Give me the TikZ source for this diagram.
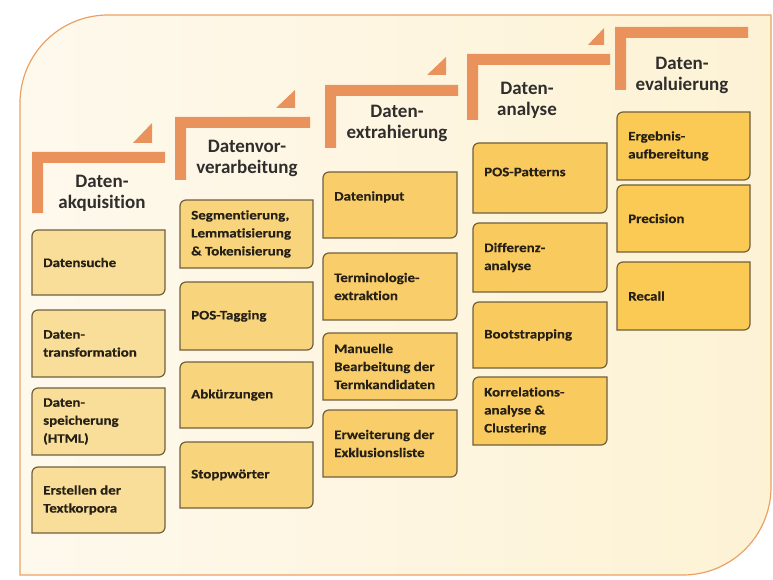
\documentclass[tikz,border=0pt]{standalone}
\usepackage{fontspec}
\setmainfont{Carlito}
\newfontfamily\headfont[RawFeature=-liga]{Carlito Bold}
\newfontfamily\boxfont[FakeStretch=1.15,FakeBold=0.4,RawFeature=-liga]{Carlito Bold}
\definecolor{stepcol}{RGB}{233,146,92}
\definecolor{bgline}{RGB}{236,160,100}
\definecolor{bgL}{RGB}{254,249,237}
\definecolor{bgR}{RGB}{253,242,212}
\definecolor{boxborder}{RGB}{112,96,62}
\definecolor{cA}{RGB}{248,222,152}
\definecolor{cB}{RGB}{248,212,124}
\definecolor{cC}{RGB}{249,206,106}
\definecolor{cD}{RGB}{249,203,94}
\definecolor{cE}{RGB}{250,202,84}
\definecolor{textc}{RGB}{38,32,22}
\definecolor{headc}{RGB}{48,46,44}
\tikzset{
  stepfill/.style={fill=stepcol},
  boxnode/.style={inner sep=0pt, outer sep=0pt},
  boxline/.style={draw=boxborder, line width=1.2pt},
  boxtext/.style={inner sep=0pt, align=left, text=textc,
    font=\boxfont\fontsize{13}{18}\selectfont},
  headtext/.style={inner sep=0pt, align=center, text=headc,
    font=\headfont\fontsize{19}{21}\selectfont},
}
\newcommand\pbox[8]{%
  \node[boxnode, minimum width={(#5-#3)*1pt}, minimum height={(#6-#4)*1pt}] (#1) at ({(#3+#5)/2},{(#4+#6)/2}) {};
  \draw[boxline, fill=#2] (#1.south west) -- ([yshift=-6pt]#1.north west)
    arc[start angle=180, end angle=90, radius=6pt] -- (#1.north east)
    -- ([yshift=6pt]#1.south east) arc[start angle=0, end angle=-90, radius=6pt] -- cycle;
  \node[boxtext, anchor=west] (#1t) at ([xshift=11pt, yshift=#7]#1.west) {#8};
}
\newcommand\stepshape[4]{% x0, xr, ytop, ybottom
  \fill[stepfill] (#1,#4) -- (#1,#3) -- (#2,#3) -- (#2,#3+11) -- (#1+11,#3+11) -- (#1+11,#4) -- cycle;
}
\begin{document}
\begin{tikzpicture}[x=1pt, y=-1pt]
\useasboundingbox (0,0) rectangle (773,580);
% background
\shadedraw[left color=bgL, right color=bgR, draw=bgline, line width=1.2pt]
  (20,575) -- (20,103) arc[start angle=180, end angle=90, radius=88pt]
  -- (771,15) -- (771,487) arc[start angle=0, end angle=-90, radius=88pt] -- cycle;
% steps
\stepshape{32}{165}{152}{213}
\fill[stepfill] (133,143) -- (152,143) -- (152,123) -- cycle;
\stepshape{175}{310}{117}{180}
\fill[stepfill] (276,108) -- (295,108) -- (295,90) -- cycle;
\stepshape{325}{458}{85}{148}
\fill[stepfill] (427,75) -- (446,75) -- (446,57) -- cycle;
\stepshape{467}{610}{54}{120}
\fill[stepfill] (588,45) -- (604,45) -- (604,28) -- cycle;
\stepshape{615}{748}{27}{90}
% headers
\node[headtext] (h1) at (102,193) {Daten-\\akquisition};
\node[headtext] (h2) at (247,158) {Datenvor-\\verarbeitung};
\node[headtext] (h3) at (397,123) {Daten-\\extrahierung};
\node[headtext] (h4) at (527,100) {Daten-\\analyse};
\node[headtext] (h5) at (682,75) {Daten-\\evaluierung};
% column 1
\pbox{b11}{cA}{32}{230}{165}{295}{0pt}{Datensuche}
\pbox{b12}{cA}{32}{310}{165}{377}{0pt}{Daten-\\transformation}
\pbox{b13}{cA}{32}{388}{165}{455}{0pt}{Daten-\\speicherung\\(HTML)}
\pbox{b14}{cA}{32}{467}{165}{533}{0pt}{Erstellen der\\Textkorpora}
% column 2
\pbox{b21}{cB}{180}{200}{313}{268}{0pt}{Segmentierung,\\Lemmatisierung\\\& Tokenisierung}
\pbox{b22}{cB}{180}{282}{313}{350}{0pt}{POS-Tagging}
\pbox{b23}{cB}{180}{362}{313}{428}{0pt}{Abkürzungen}
\pbox{b24}{cB}{180}{442}{313}{508}{0pt}{Stoppwörter}
% column 3
\pbox{b31}{cC}{323}{172}{457}{238}{8pt}{Dateninput}
\pbox{b32}{cC}{323}{253}{457}{320}{0pt}{Terminologie-\\extraktion}
\pbox{b33}{cC}{323}{333}{457}{400}{0pt}{Manuelle\\Bearbeitung der\\Termkandidaten}
\pbox{b34}{cC}{323}{410}{457}{477}{0pt}{Erweiterung der\\Exklusionsliste}
% column 4
\pbox{b41}{cD}{473}{143}{607}{213}{6pt}{POS-Patterns}
\pbox{b42}{cD}{473}{223}{607}{292}{0pt}{Differenz-\\analyse}
\pbox{b43}{cD}{473}{302}{607}{368}{0pt}{Bootstrapping}
\pbox{b44}{cD}{473}{377}{607}{445}{0pt}{Korrelations-\\analyse \&\\Clustering}
% column 5
\pbox{b51}{cE}{617}{112}{750}{180}{0pt}{Ergebnis-\\aufbereitung}
\pbox{b52}{cE}{617}{185}{750}{252}{0pt}{Precision}
\pbox{b53}{cE}{617}{262}{750}{330}{0pt}{Recall}
\end{tikzpicture}
\end{document}
